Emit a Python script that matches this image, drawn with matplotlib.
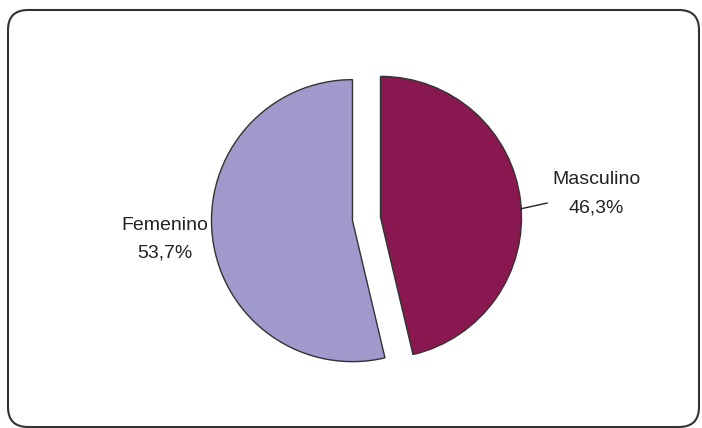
import matplotlib
matplotlib.use("Agg")
import matplotlib.pyplot as plt
import matplotlib.patches as mpatches
from matplotlib.transforms import IdentityTransform

# datos
categorias = ["Masculino", "Femenino"]
porcentajes = [46.3, 53.7]
etiquetas_pct = ["46,3%", "53,7%"]
colores = ["#8a1850", "#a099cb"]

plt.rcParams['font.family'] = ['Liberation Sans', 'DejaVu Sans']

fig = plt.figure(figsize=(7.02, 4.28), dpi=100)
ax = fig.add_axes([0, 0, 1, 1])

ax.pie(porcentajes, colors=colores, startangle=90, counterclock=False,
       explode=[0.1, 0.1],
       wedgeprops=dict(edgecolor="#333333", linewidth=1.0))

# 1 unidad = 141 px, centro en (366.5, 209) px
ax.set_xlim(-366.5 / 141, (702 - 366.5) / 141)
ax.set_ylim(-209 / 141, (428 - 209) / 141)
ax.set_aspect("equal", adjustable="datalim")
ax.axis("off")

# etiquetas
ax.text(1.628, 0.277, categorias[0], ha="center", va="center", fontsize=14, color="#222222")
ax.text(1.628, 0.078, etiquetas_pct[0], ha="center", va="center", fontsize=14, color="#222222")
ax.text(-1.429, -0.043, categorias[1], ha="center", va="center", fontsize=14, color="#222222")
ax.text(-1.429, -0.241, etiquetas_pct[1], ha="center", va="center", fontsize=14, color="#222222")
ax.plot([1.089, 1.280], [0.071, 0.113], color="#222222", lw=1.0)

# marco redondeado
marco = mpatches.FancyBboxPatch((8, 1), 691, 417,
                                boxstyle="round,pad=0,rounding_size=20",
                                facecolor="none", edgecolor="#333333", linewidth=1.5,
                                transform=IdentityTransform())
fig.add_artist(marco)

fig.savefig("out.png", dpi=100)
